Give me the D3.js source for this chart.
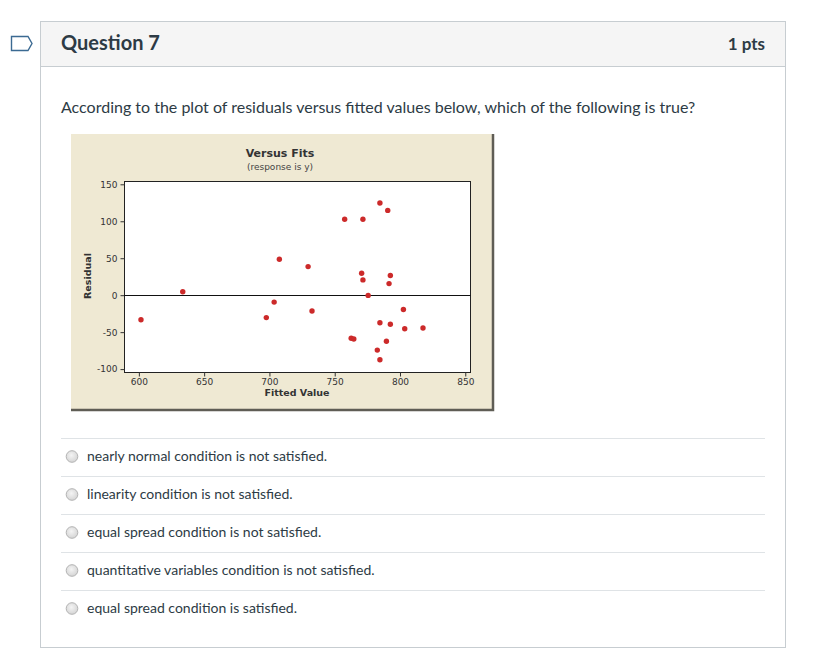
<!DOCTYPE html>
<html>
<head>
<meta charset="utf-8">
<script src="https://cdn.jsdelivr.net/npm/d3@7"></script>
<style>
  html, body { margin: 0; padding: 0; background: #fff; }
  svg text { font-family: Lato, "Open Sans", sans-serif; }
  .mini text { font-family: Tahoma, "DejaVu Sans", sans-serif; }
</style>
</head>
<body>
<div id="page"></div>
<script>
// residuals vs fitted values
const fitted   = [602, 634, 698, 704, 708, 730, 733, 758, 772, 785, 791, 771, 772, 793, 792, 776, 803, 785, 793, 804, 818, 763, 765, 790, 783, 785];
const residual = [-34, 4, -31, -10, 48, 38, -22, 102, 102, 124, 114, 29, 20, 26, 15, -1, -20, -38, -40, -46, -45, -59, -60, -63, -75, -88];
const xTicks = [600, 650, 700, 750, 800, 850];
const yTicks = [-100, -50, 0, 50, 100, 150];
const answerOptions = [
  "nearly normal condition is not satisfied.",
  "linearity condition is not satisfied.",
  "equal spread condition is not satisfied.",
  "quantitative variables condition is not satisfied.",
  "equal spread condition is satisfied."
];

const W = 826, H = 663;
const svg = d3.select("#page").append("svg")
    .attr("width", W)
    .attr("height", H);

drawQuestionBox(svg);
drawChart(svg);
drawOptions(svg);

function drawQuestionBox(svg) {
    // outer box + header band
    svg.append("rect")
        .attr("x", 40.5).attr("y", 21.5)
        .attr("width", 745).attr("height", 626)
        .attr("fill", "#fff").attr("stroke", "#c7cdd1");
    svg.append("rect")
        .attr("x", 41).attr("y", 22)
        .attr("width", 744).attr("height", 44)
        .attr("fill", "#f5f5f5");
    svg.append("line")
        .attr("x1", 40.5).attr("x2", 785.5)
        .attr("y1", 66.5).attr("y2", 66.5)
        .attr("stroke", "#c7cdd1");

    // bookmark tag on the left
    svg.append("path")
        .attr("d", "M11.5,36.5 L28,36.5 L32,43.5 L28,50.5 L11.5,50.5 Z")
        .attr("fill", "#fff")
        .attr("stroke", "#3b6a92")
        .attr("stroke-width", 1.4);

    svg.append("text")
        .attr("x", 61).attr("y", 50)
        .attr("font-size", 20).attr("font-weight", 700)
        .attr("fill", "#2d3b45")
        .text("Question 7");
    svg.append("text")
        .attr("x", 765).attr("y", 50)
        .attr("text-anchor", "end")
        .attr("font-size", 17).attr("font-weight", 700)
        .attr("fill", "#2d3b45")
        .text("1 pts");

    svg.append("text")
        .attr("x", 61).attr("y", 113)
        .attr("font-size", 16)
        .attr("fill", "#2d3b45")
        .text("According to the plot of residuals versus fitted values below, which of the following is true?");
}

function drawChart(svg) {
    const img = { x: 71, y: 134, w: 423, h: 277 };
    const frame = { left: 124, right: 470, top: 181, bottom: 372 };

    const g = svg.append("g").attr("class", "mini");

    g.append("rect")
        .attr("x", img.x).attr("y", img.y)
        .attr("width", img.w).attr("height", img.h)
        .attr("fill", "#efe9d3");
    // darker right/bottom edge of the picture
    g.append("path")
        .attr("d", `M${img.x + img.w - 1},${img.y} V${img.y + img.h - 1} H${img.x}`)
        .attr("fill", "none")
        .attr("stroke", "#5f5d55")
        .attr("stroke-width", 2.5);

    const x = d3.scaleLinear().domain([589, 854]).range([frame.left, frame.right]);
    const y = d3.scaleLinear().domain([-104.6, 153.8]).range([frame.bottom, frame.top]);

    g.append("rect")
        .attr("x", frame.left + 0.5).attr("y", frame.top + 0.5)
        .attr("width", frame.right - frame.left).attr("height", frame.bottom - frame.top)
        .attr("fill", "#fff")
        .attr("stroke", "#222");

    const xAxis = g.append("g")
        .attr("transform", `translate(0.5,${frame.bottom + 0.5})`)
        .call(d3.axisBottom(x).tickValues(xTicks).tickSize(4).tickPadding(2)
            .tickFormat(d => String(d)));
    const yAxis = g.append("g")
        .attr("transform", `translate(${frame.left + 0.5},0.5)`)
        .call(d3.axisLeft(y).tickValues(yTicks).tickSize(4).tickPadding(3)
            .tickFormat(d => String(d)));
    [xAxis, yAxis].forEach(a => {
        a.select(".domain").remove();
        a.selectAll("line").attr("stroke", "#333");
        a.selectAll("text")
            .attr("font-family", "Tahoma, 'DejaVu Sans', sans-serif")
            .attr("font-size", 9)
            .attr("fill", "#333");
    });

    // reference line at zero
    g.append("line")
        .attr("x1", frame.left).attr("x2", frame.right + 0.5)
        .attr("y1", Math.round(y(0)) + 0.5).attr("y2", Math.round(y(0)) + 0.5)
        .attr("stroke", "#111");

    g.selectAll(".pt")
        .data(fitted.map((f, i) => ({ f, r: residual[i] })))
        .enter()
        .append("circle")
        .attr("class", "pt")
        .attr("cx", d => x(d.f))
        .attr("cy", d => y(d.r))
        .attr("r", 2.7)
        .attr("fill", "#cc2a2a");

    g.append("text")
        .attr("x", 280).attr("y", 157)
        .attr("text-anchor", "middle")
        .attr("font-size", 11).attr("font-weight", 700)
        .attr("fill", "#333")
        .text("Versus Fits");
    g.append("text")
        .attr("x", 280).attr("y", 170)
        .attr("text-anchor", "middle")
        .attr("font-size", 9)
        .attr("fill", "#444")
        .text("(response is y)");
    g.append("text")
        .attr("x", 297).attr("y", 396)
        .attr("text-anchor", "middle")
        .attr("font-size", 9.5).attr("font-weight", 700)
        .attr("fill", "#333")
        .text("Fitted Value");
    g.append("text")
        .attr("transform", "translate(91,276) rotate(-90)")
        .attr("text-anchor", "middle")
        .attr("font-size", 9.5).attr("font-weight", 700)
        .attr("fill", "#333")
        .text("Residual");
}

function drawOptions(svg) {
    const defs = svg.append("defs");
    const grad = defs.append("radialGradient").attr("id", "radioFill")
        .attr("cx", "45%").attr("cy", "40%").attr("r", "65%");
    grad.append("stop").attr("offset", "0%").attr("stop-color", "#f4f4f4");
    grad.append("stop").attr("offset", "100%").attr("stop-color", "#d2d2d2");

    const rowH = 38, top = 438;
    const rows = svg.selectAll(".opt")
        .data(answerOptions)
        .enter()
        .append("g")
        .attr("class", "opt")
        .attr("transform", (d, i) => `translate(0,${top + i * rowH})`);

    rows.append("line")
        .attr("x1", 61).attr("x2", 765)
        .attr("y1", 0.5).attr("y2", 0.5)
        .attr("stroke", "#dfe3e6");
    rows.append("circle")
        .attr("cx", 72).attr("cy", 18.5)
        .attr("r", 5.8)
        .attr("fill", "url(#radioFill)")
        .attr("stroke", "#b3b3b3");
    rows.append("text")
        .attr("x", 87).attr("y", 23)
        .attr("font-size", 14)
        .attr("fill", "#2d3b45")
        .text(d => d);
}
</script>
</body>
</html>
